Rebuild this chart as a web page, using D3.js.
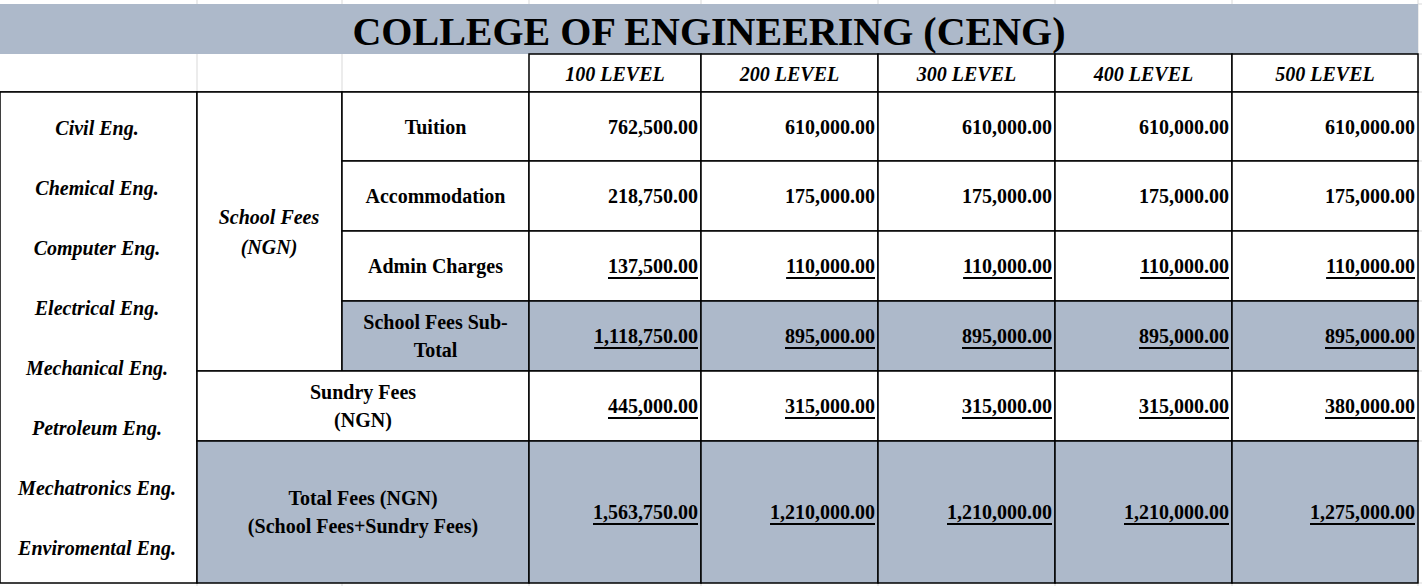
<!DOCTYPE html>
<html><head><meta charset="utf-8">
<script src="https://cdn.jsdelivr.net/npm/d3@7"></script>
<style>
body{margin:0;background:#fff}
text{font-family:"Liberation Serif","Times New Roman",serif;font-weight:bold;fill:#000}
</style></head><body>
<svg id="c" width="1422" height="586"></svg>
<script>
let title = 'COLLEGE OF ENGINEERING (CENG)'
let levels = ['100 LEVEL','200 LEVEL','300 LEVEL','400 LEVEL','500 LEVEL']
let departments = ['Civil Eng.','Chemical Eng.','Computer Eng.','Electrical Eng.','Mechanical Eng.','Petroleum Eng.','Mechatronics Eng.','Enviromental Eng.']
let tuition = [762500,610000,610000,610000,610000]
let accommodation = [218750,175000,175000,175000,175000]
let admin = [137500,110000,110000,110000,110000]
let subTotal = [1118750,895000,895000,895000,895000]
let sundry = [445000,315000,315000,315000,380000]
let total = [1563750,1210000,1210000,1210000,1275000]

let colX = [0,197,342,529,701,878,1055,1232,1418]
let rowY = [4,54,92,161,231,301,371,441,583]
let grey = '#adb9ca'
let fmt = d3.format(',.2f')

let svg = d3.select('#c')

// faint sheet grid
svg.selectAll('.g').data(colX.slice(1)).enter().append('line')
    .attr('x1',d=>d).attr('x2',d=>d).attr('y1',0).attr('y2',586)
    .attr('stroke','#d9d9d9')
svg.selectAll('.gh').data(rowY).enter().append('line')
    .attr('x1',1418).attr('x2',1422).attr('y1',d=>d).attr('y2',d=>d)
    .attr('stroke','#d9d9d9')

function rect(x0,y0,x1,y1,fill,stroke) {
    svg.append('rect').attr('x',x0).attr('y',y0).attr('width',x1-x0).attr('height',y1-y0)
        .attr('fill',fill).attr('stroke',stroke || 'none').attr('stroke-width',1.5)
}
function label(x,y,t,opts) {
    opts = opts || {}
    let el = svg.append('text').attr('x',x).attr('y',y)
        .attr('text-anchor',opts.anchor || 'middle')
        .attr('dominant-baseline','central')
        .style('font-size',(opts.size || 20)+'px')
        .style('font-style',opts.italic ? 'italic' : 'normal')
        .style('text-decoration',opts.underline ? 'underline' : 'none')
        .text(t)
    return el
}

// title band
rect(0,4,1418,54,grey)
label(709,31,title,{size:40})

// header
svg.selectAll('.hb').data(levels).enter().append('rect')
    .attr('x',(d,i)=>colX[i+3]).attr('y',54)
    .attr('width',(d,i)=>colX[i+4]-colX[i+3]).attr('height',38)
    .attr('fill','#fff').attr('stroke','#000').attr('stroke-width',1.5)
levels.forEach((d,i)=>label((colX[i+3]+colX[i+4])/2,74,d,{italic:true}))
svg.append('line').attr('x1',0).attr('x2',529).attr('y1',92).attr('y2',92).attr('stroke','#000').attr('stroke-width',1.5)

// department column
rect(0,92,197,583,'#fff','#000')
departments.forEach((d,i)=>label(97,128+i*60,d,{italic:true}))

// school fees block
rect(197,92,342,371,'#fff','#000')
label(269,217,'School Fees',{italic:true})
label(269,247,'(NGN)',{italic:true})

let feeRows = [
    {name:['Tuition'],vals:tuition,ul:false,fill:'#fff',x0:342},
    {name:['Accommodation'],vals:accommodation,ul:false,fill:'#fff',x0:342},
    {name:['Admin Charges'],vals:admin,ul:true,fill:'#fff',x0:342},
    {name:['School Fees Sub-','Total'],vals:subTotal,ul:true,fill:grey,x0:342},
    {name:['Sundry Fees','(NGN)'],vals:sundry,ul:true,fill:'#fff',x0:197},
    {name:['Total Fees (NGN)','(School Fees+Sundry Fees)'],vals:total,ul:true,fill:grey,x0:197}
]
feeRows.forEach((r,ri)=>{
    let y0 = rowY[ri+2], y1 = rowY[ri+3], cy = (y0+y1)/2
    rect(r.x0,y0,529,y1,r.fill,'#000')
    let cx = (r.x0+529)/2
    if (r.name.length == 1) label(cx,cy,r.name[0])
    else { label(cx,cy-14,r.name[0]); label(cx,cy+14,r.name[1]) }
    r.vals.forEach((v,i)=>{
        rect(colX[i+3],y0,colX[i+4],y1,r.fill,'#000')
        label(colX[i+4]-3,cy,fmt(v),{anchor:'end',underline:r.ul})
    })
})
</script>
</body></html>
